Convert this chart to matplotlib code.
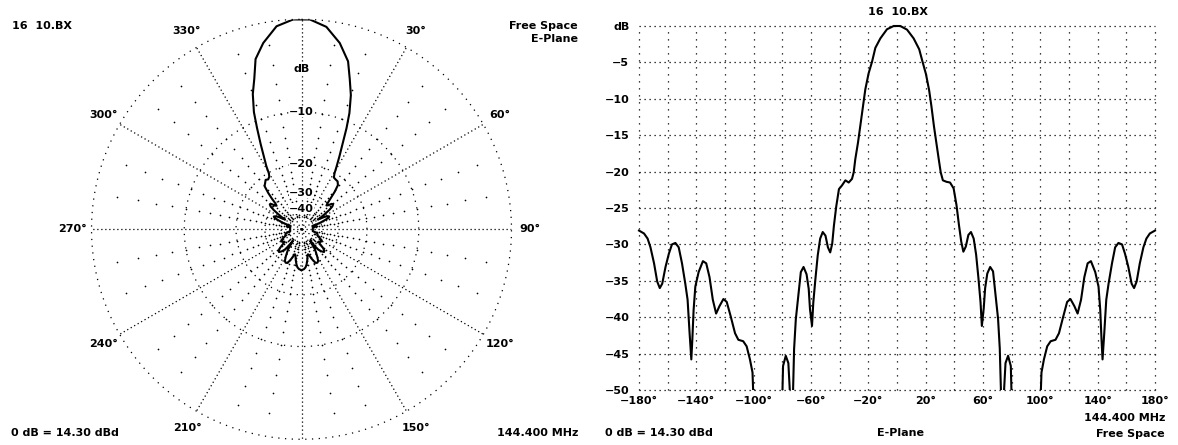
import numpy as np
import matplotlib
matplotlib.use('Agg')
import matplotlib.pyplot as plt
from matplotlib.patches import Rectangle

# E-plane pattern (deg, dB); values below -50 fall off the grid
angle_deg = [-180, -176.5, -174, -172, -169.5, -167.3, -165.5, -163.8, -161.5, -159.2,
             -157, -154.6, -152.3, -150, -147.7, -146.1, -144.7, -143.5, -142.8, -141.9,
             -140.7, -138.4, -135.4, -133.1, -130.8, -128.5, -126.2, -123.9, -121.1, -118.8,
             -116, -113, -110.7, -107.3, -104.9, -102.6, -100.8, -99.5, -90, -80.5,
             -79.5, -77.6, -75.8, -74.8, -73.6, -72.5, -71.8, -70.6, -68.9, -67.1,
             -65.2, -63.1, -61.6, -60.7, -59.3, -58.4, -56.9, -55.3, -53.6, -51.8,
             -49.9, -48.2, -46.6, -45.2, -44.0, -42.4, -40.5, -38.4, -36.0, -33.7,
             -31.4, -30.2, -29.1, -27.2, -25.6, -23.7, -22.1, -19.8, -17.4, -15.1,
             -11.6, -7, -2.3, 2.3, 7, 11.6, 15.5, 17.8, 20.2, 22.4,
             24.0, 25.8, 27.4, 29.2, 30.5, 32.0, 34.5, 37.0, 39.5, 41.5,
             43.2, 44.8, 46.3, 48.0, 49.8, 51.6, 53.5, 55.2, 56.8, 58.3,
             59.2, 60.5, 61.5, 63.0, 65.0, 67.0, 68.8, 70.5, 71.7, 72.5,
             73.6, 74.7, 75.7, 77.5, 79.4, 80.5, 90, 99.5, 100.8, 102.5,
             104.8, 107.2, 110.6, 113, 116, 118.7, 121, 123.8, 126, 128.4,
             130.7, 133, 135.3, 138.3, 140.6, 141.8, 142.7, 143.4, 144.6, 146,
             147.6, 150, 152.2, 154.5, 157, 159.1, 161.4, 163.7, 165.4, 167.2,
             169.4, 171.9, 174, 176.4, 180]
gain_db = [-28.1, -28.5, -29.2, -30.4, -32.6, -35.1, -36.0, -35.4, -33.1, -31.3,
           -30.0, -29.8, -30.4, -32.6, -35.4, -37.6, -42.2, -45.8, -43.1, -39.0,
           -35.8, -33.8, -32.3, -32.6, -34.5, -37.6, -39.5, -38.5, -37.5, -37.9,
           -39.9, -42.2, -43.1, -43.3, -44.0, -45.8, -47.6, -55, -58, -55,
           -46.7, -45.3, -46.3, -50, -56, -50, -44.4, -40.3, -37.1, -33.8,
           -33.1, -34.1, -36.1, -38.9, -41.2, -38.0, -34.7, -31.5, -29.2, -28.3,
           -28.8, -30.4, -31.1, -29.9, -27.4, -24.8, -22.4, -21.9, -21.2, -21.5,
           -21.0, -20.1, -18.3, -16.0, -13.7, -11.0, -8.7, -6.5, -4.9, -3.0,
           -1.7, -0.45, 0, 0, -0.5, -1.7, -3.2, -4.9, -6.6, -8.8,
           -11.0, -13.8, -16.0, -18.4, -20.1, -21.2, -21.4, -21.5, -22.3, -24.6,
           -27.3, -29.6, -31.0, -30.3, -28.7, -28.3, -29.2, -31.4, -34.6, -38.0,
           -41.2, -38.8, -36.0, -34.0, -33.1, -33.7, -37.0, -40.2, -44.3, -50,
           -56, -50, -46.3, -45.3, -46.7, -55, -58, -55, -47.6, -45.8,
           -44.0, -43.3, -43.1, -42.2, -39.9, -37.9, -37.5, -38.5, -39.5, -37.6,
           -34.5, -32.6, -32.3, -33.8, -35.8, -39.0, -43.1, -45.8, -42.2, -37.6,
           -35.4, -32.6, -30.4, -29.8, -30.0, -31.3, -33.1, -35.4, -36.0, -35.1,
           -32.6, -30.4, -29.2, -28.5, -28.1]

ring_db = [0, -10, -20, -30, -40]
ring_label_db = [-4.6, -10, -20, -30, -40]
ring_labels = ['dB', '\u221210', '\u221220', '\u221230', '\u221240']
spoke_deg = list(range(0, 360, 30))
dot_deg = [a for a in range(0, 360, 10) if a % 30]
dot_db = list(range(-2, -50, -2))
label_deg = [30, 60, 90, 120, 150, 210, 240, 270, 300, 330]

ytick_db = list(range(0, -55, -5))
ytick_labels = ['dB'] + ['\u2212%d' % -v for v in ytick_db[1:]]
xgrid_deg = list(range(-180, 181, 20))
xtick_deg = list(range(-180, 181, 40))
xtick_labels = [('\u2212%d\u00b0' % -v) if v < 0 else '%d\u00b0' % v for v in xtick_deg]

W, H = 1178, 445
FS = 8
plt.rcParams['font.family'] = ['DejaVu Sans']
plt.rcParams['font.weight'] = 'bold'


def arrl(db):
    # ARRL log scale: radius shrinks by 0.89 every 2 dB
    return 0.89 ** (-np.asarray(db, dtype=float) / 2)


def px(x, y):
    return x / W, 1 - y / H


fig = plt.figure(figsize=(W / 100, H / 100), dpi=100)

# ---- polar plot ----
ax1 = fig.add_axes([91.5 / W, 5.7 / H, 420 / W, 420 / H], projection='polar')
ax1.set_theta_zero_location('N')
ax1.set_theta_direction(-1)
ax1.set_ylim(0, 1)
ax1.grid(False)
ax1.set_xticks([])
ax1.set_yticks([])
ax1.spines['polar'].set_visible(False)

th = np.linspace(0, 2 * np.pi, 721)
for d in ring_db:
    ax1.plot(th, np.full_like(th, arrl(d)), color='k', lw=0.9,
             ls=(0, (1, 4.4)), clip_on=False)
for a in spoke_deg:
    ax1.plot([np.deg2rad(a)] * 2, [0, 1], color='k', lw=0.9, ls=(0, (1, 2.2)))
dt, dr = np.meshgrid(np.deg2rad(dot_deg), arrl(dot_db))
ax1.scatter(dt.ravel(), dr.ravel(), s=1.5, color='k', linewidths=0)

ax1.plot(np.deg2rad(angle_deg), arrl(np.maximum(gain_db, -50)), color='k', lw=1.5)

for d, lab in zip(ring_label_db, ring_labels):
    ax1.text(0, arrl(d), lab, ha='center', va='center', fontsize=FS,
             bbox=dict(facecolor='white', edgecolor='none', pad=0.3))
for a in label_deg:
    ax1.text(np.deg2rad(a), 1.09, '%d\u00b0' % a, ha='center', va='center', fontsize=FS)

fig.text(*px(12, 26), '16  10.BX', ha='left', va='center', fontsize=FS)
fig.text(*px(578, 26), 'Free Space', ha='right', va='center', fontsize=FS)
fig.text(*px(578, 39), 'E-Plane', ha='right', va='center', fontsize=FS)
fig.text(*px(11, 433), '0 dB = 14.30 dBd', ha='left', va='center', fontsize=FS)
fig.text(*px(578, 433), '144.400 MHz', ha='right', va='center', fontsize=FS)

# ---- rectangular plot ----
ax2 = fig.add_axes([639 / W, (H - 390) / H, 516 / W, 364 / H])
ax2.set_xlim(-180, 180)
ax2.set_ylim(-50, 0)
for s in ax2.spines.values():
    s.set_visible(False)
for v in ytick_db:
    ax2.axhline(v, color='k', lw=0.9, ls=(0, (1, 3)), clip_on=False)
for v in xgrid_deg:
    ax2.axvline(v, color='k', lw=0.9, ls=(0, (1, 4.6)), clip_on=False)

line, = ax2.plot(angle_deg, gain_db, color='k', lw=1.5)
clip = Rectangle((-0.01, 0), 1.02, 1.02, transform=ax2.transAxes, visible=False)
ax2.add_patch(clip)
line.set_clip_path(clip)

ax2.set_yticks(ytick_db)
ax2.set_yticklabels(ytick_labels, fontsize=FS)
ax2.set_xticks(xtick_deg)
ax2.set_xticklabels(xtick_labels, fontsize=FS)
ax2.tick_params(length=0)
ax2.tick_params(axis='y', pad=7)
ax2.tick_params(axis='x', pad=4)

fig.text(*px(898, 12), '16  10.BX', ha='center', va='center', fontsize=FS)
fig.text(*px(605, 433), '0 dB = 14.30 dBd', ha='left', va='center', fontsize=FS)
fig.text(*px(900, 433), 'E-Plane', ha='center', va='center', fontsize=FS)
fig.text(*px(1165, 418), '144.400 MHz', ha='right', va='center', fontsize=FS)
fig.text(*px(1165, 434), 'Free Space', ha='right', va='center', fontsize=FS)

fig.savefig('out.png', dpi=100)
